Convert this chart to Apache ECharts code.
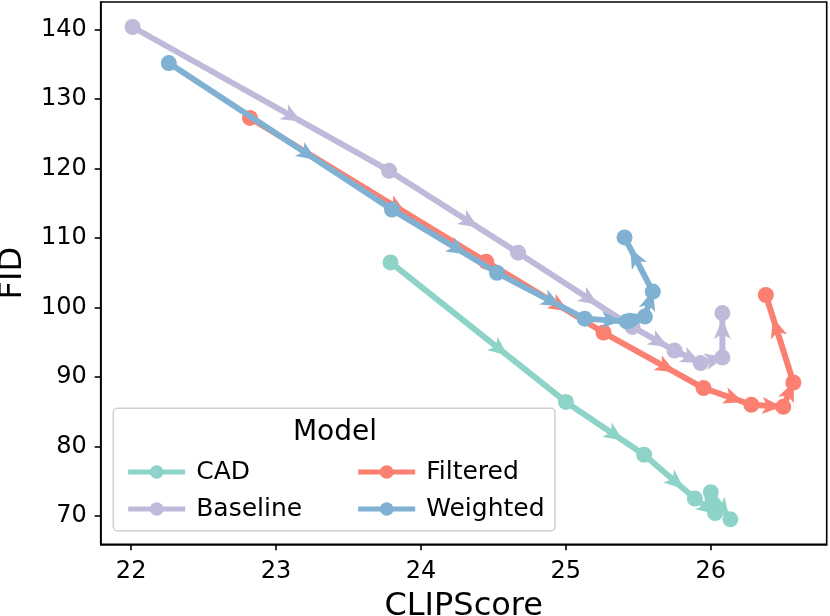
<!DOCTYPE html>
<html><head><meta charset="utf-8">
<script src="https://cdn.jsdelivr.net/npm/echarts@6/dist/echarts.min.js"></script>
<style>html,body{margin:0;padding:0;background:#fff}#c{width:830px;height:616px}</style>
</head><body><div id="c"></div>
<script>
// ---- data ----
const cadX = [23.79, 25.00, 25.54, 25.89, 26.03, 26.00, 26.135];
const cadY = [106.5, 86.4, 78.8, 72.5, 70.4, 73.4, 69.5];
const baselineX = [22.01, 23.78, 24.67, 25.46, 25.75, 25.93, 26.08, 26.08];
const baselineY = [140.4, 119.7, 107.9, 97.2, 93.8, 92.0, 92.8, 99.2];
const filteredX = [22.82, 24.45, 25.26, 25.95, 26.28, 26.50, 26.57, 26.38];
const filteredY = [127.3, 106.6, 96.4, 88.4, 86.0, 85.7, 89.2, 101.8];
const weightedX = [22.26, 23.80, 24.525, 25.13, 25.42, 25.545, 25.60, 25.405];
const weightedY = [135.2, 114.1, 105.0, 98.4, 98.0, 98.7, 102.3, 110.1];
const xTicks = [22, 23, 24, 25, 26];
const yTicks = [70, 80, 90, 100, 110, 120, 130, 140];
const modelNames = ['CAD', 'Baseline', 'Filtered', 'Weighted'];
const modelColors = ['#8dd3c7', '#bebada', '#fb8072', '#80b1d3'];

const FONT = 'DejaVu Sans';
const seriesData = [[cadX, cadY], [baselineX, baselineY], [filteredX, filteredY], [weightedX, weightedY]];

function pts(xs, ys) { return xs.map((x, i) => [x, ys[i]]); }
function segs(xs, ys) {
  const out = [];
  for (let i = 0; i < xs.length - 1; i++) out.push([xs[i], ys[i], xs[i + 1], ys[i + 1]]);
  return out;
}
function arrowRenderer(color) {
  return function (params, api) {
    const p1 = api.coord([api.value(0), api.value(1)]);
    const p2 = api.coord([api.value(2), api.value(3)]);
    const dx = p2[0] - p1[0], dy = p2[1] - p1[1];
    const len = Math.hypot(dx, dy);
    if (len < 1) return;
    const ux = dx / len, uy = dy / len, nx = -uy, ny = ux;
    const f = 0.62, L = 20, W = 8.5, N = 5;
    const cx = p1[0] + dx * f, cy = p1[1] + dy * f;
    const tip = [cx + ux * L * 0.55, cy + uy * L * 0.55];
    const back = [cx - ux * L * 0.45, cy - uy * L * 0.45];
    const left = [back[0] + nx * W, back[1] + ny * W];
    const right = [back[0] - nx * W, back[1] - ny * W];
    const notch = [back[0] + ux * N, back[1] + uy * N];
    return { type: 'polygon', shape: { points: [tip, left, notch, right] }, style: { fill: color } };
  };
}

const series = [];
modelNames.forEach((name, k) => {
  const [xs, ys] = seriesData[k];
  series.push({
    name: name, type: 'line', data: pts(xs, ys),
    symbol: 'circle', symbolSize: 16, showSymbol: true,
    lineStyle: { width: 6, color: modelColors[k] },
    itemStyle: { color: modelColors[k] },
    z: 2 + k * 2
  });
  series.push({
    name: name + '_arrows', type: 'custom', data: segs(xs, ys),
    renderItem: arrowRenderer(modelColors[k]),
    encode: { x: [0, 2], y: [1, 3] },
    z: 3 + k * 2, silent: true
  });
});

const legendCommon = {
  orient: 'vertical', top: 454, itemWidth: 57, itemHeight: 17, itemGap: 11,
  lineStyle: { width: 5 },
  textStyle: { fontFamily: FONT, fontSize: 25, color: '#000', lineHeight: 26, padding: [0, 0, 0, 6] },
  z: 20, selectedMode: false
};

const chart = echarts.init(document.getElementById('c'), null, { renderer: 'canvas' });
chart.setOption({
  animation: false,
  backgroundColor: '#fff',
  grid: { left: 100.7, right: 3.3, top: 2, bottom: 71.7, outerBoundsMode: 'none', containLabel: false,
    show: true, borderColor: '#000', borderWidth: 1.6, backgroundColor: 'transparent' },
  xAxis: {
    type: 'value', min: 21.79, max: 26.8,
    name: 'CLIPScore', nameLocation: 'middle', nameGap: 46,
    nameTextStyle: { fontFamily: FONT, fontSize: 32, color: '#000' },
    axisLine: { show: true, lineStyle: { color: '#000', width: 1.6 } },
    axisTick: { show: true, inside: false, length: 6, lineStyle: { color: '#000', width: 1.6 }, customValues: xTicks },
    axisLabel: { fontFamily: FONT, fontSize: 24, color: '#000', margin: 15, customValues: xTicks },
    splitLine: { show: false }
  },
  yAxis: {
    type: 'value', min: 65.9, max: 144.0,
    name: 'FID', nameLocation: 'middle', nameGap: 72,
    nameTextStyle: { fontFamily: FONT, fontSize: 32, color: '#000' },
    axisLine: { show: true, lineStyle: { color: '#000', width: 1.6 } },
    axisTick: { show: true, inside: false, length: 6, lineStyle: { color: '#000', width: 1.6 }, customValues: yTicks },
    axisLabel: { fontFamily: FONT, fontSize: 24, color: '#000', margin: 14, customValues: yTicks },
    splitLine: { show: false }
  },
  legend: [
    Object.assign({}, legendCommon, { left: 120.7, data: ['CAD', 'Baseline'] }),
    Object.assign({}, legendCommon, { left: 350.7, data: ['Filtered', 'Weighted'] })
  ],
  graphic: [
    { type: 'rect', z: 15, shape: { x: 113.3, y: 408.3, width: 441.7, height: 122.4, r: 4 },
      style: { fill: 'rgba(255,255,255,0.8)', stroke: '#d0d0d0', lineWidth: 1.5 } },
    { type: 'text', z: 16, x: 335, y: 432.5,
      style: { text: 'Model', fontFamily: FONT, fontSize: 28, fill: '#000', textAlign: 'center', textVerticalAlign: 'middle' } }
  ],
  series: series
});
</script></body></html>
